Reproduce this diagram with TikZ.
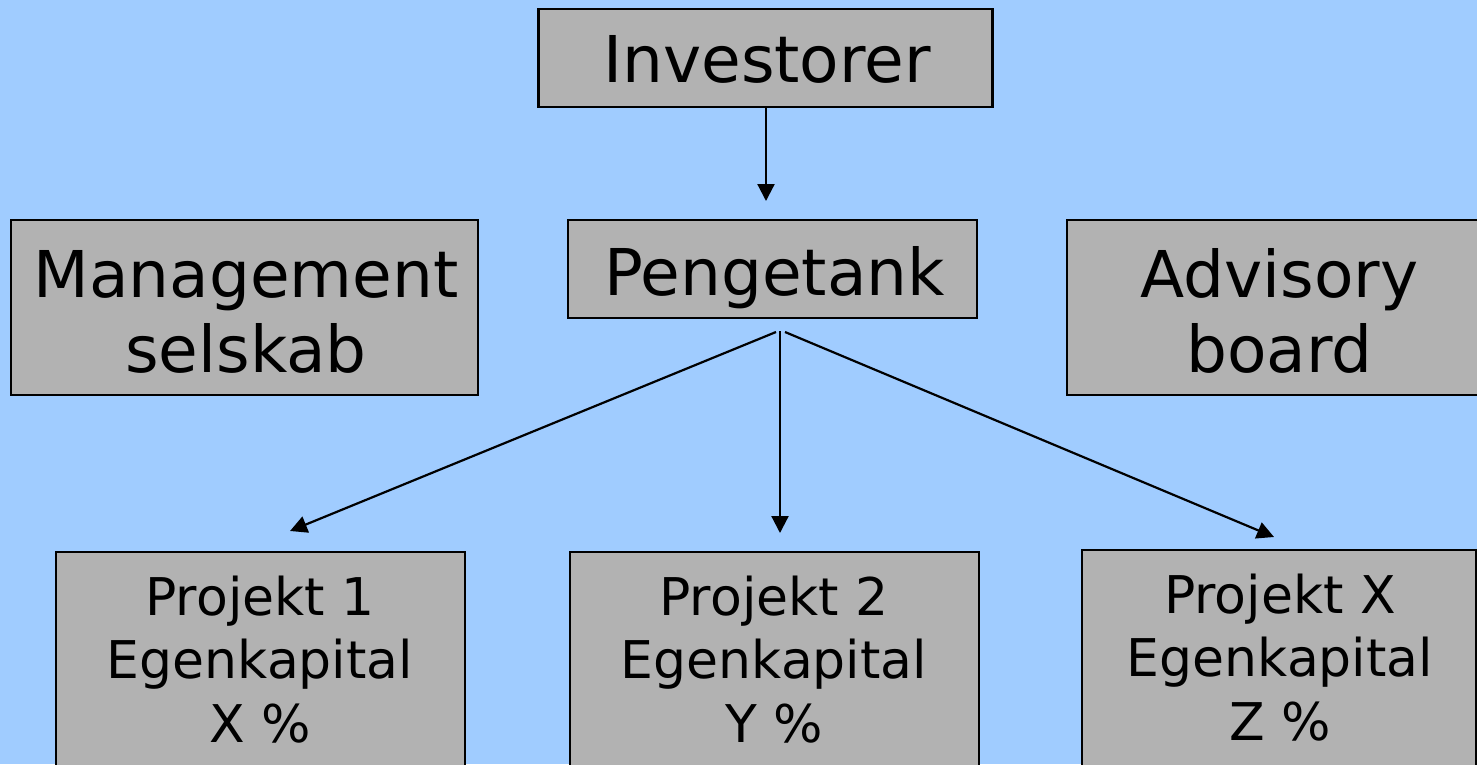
\documentclass[tikz,border=0pt]{standalone}
\usepackage{fontspec}
\setmainfont{DejaVu Sans}
\usetikzlibrary{arrows.meta}
\definecolor{bgblue}{RGB}{160,204,255}
\definecolor{boxgray}{RGB}{178,178,178}
\begin{document}
\begin{tikzpicture}[x=1pt,y=-1pt,
  box/.style={draw=black,line width=2.4pt,fill=boxgray,inner sep=0pt,anchor=center},
  bigtext/.style={font=\fontsize{64.5}{75}\selectfont,inner sep=0pt,align=center,anchor=base},
  smalltext/.style={font=\fontsize{52}{63.5}\selectfont,inner sep=0pt,align=center,anchor=base},
  conn/.style={line width=2.2pt,-{Triangle[length=17pt,width=17pt]}}]
\useasboundingbox (0,0) rectangle (1477,764);
\fill[bgblue] (0,0) rectangle (1477,764);
\clip (0,0) rectangle (1477,764);
% boxes
\node[box,minimum width=454pt,minimum height=98pt] (inv) at (765.5,58) {};
\node[box,minimum width=409pt,minimum height=98pt] (peng) at (772.5,269) {};
\node[box,minimum width=467pt,minimum height=175pt] (mgmt) at (244.5,307.5) {};
\node[box,minimum width=412pt,minimum height=175pt] (adv) at (1273,307.5) {};
\node[box,minimum width=409pt,minimum height=230pt] (p1) at (260.5,667) {};
\node[box,minimum width=409pt,minimum height=230pt] (p2) at (774.5,667) {};
\node[box,minimum width=394pt,minimum height=234pt] (px) at (1279,667) {};
% texts (base anchor = baseline of last line)
\node[bigtext] (tinv) at (767,82) {Investorer};
\node[bigtext] (tpeng) at (774.5,295) {Pengetank};
\node[bigtext] (tmgmt) at (246,372) {Management\\selskab};
\node[bigtext] (tadv) at (1279.5,372) {Advisory\\board};
\node[smalltext] (tp1) at (260,742) {Projekt 1\\Egenkapital\\X \%};
\node[smalltext] (tp2) at (774,742) {Projekt 2\\Egenkapital\\Y \%};
\node[smalltext] (tpx) at (1280,740) {Projekt X\\Egenkapital\\Z \%};
% connectors
\coordinate (a0) at (766,108);
\coordinate (a1) at (766,201);
\coordinate (sl) at (776,332);
\coordinate (sm) at (780,331);
\coordinate (sr) at (785,332);
\coordinate (tl) at (290,531);
\coordinate (tm) at (780,533);
\coordinate (tr) at (1274,537);
\draw[conn] (a0) -- (a1);
\draw[conn] (sl) -- (tl);
\draw[conn] (sm) -- (tm);
\draw[conn] (sr) -- (tr);
\end{tikzpicture}
\end{document}
